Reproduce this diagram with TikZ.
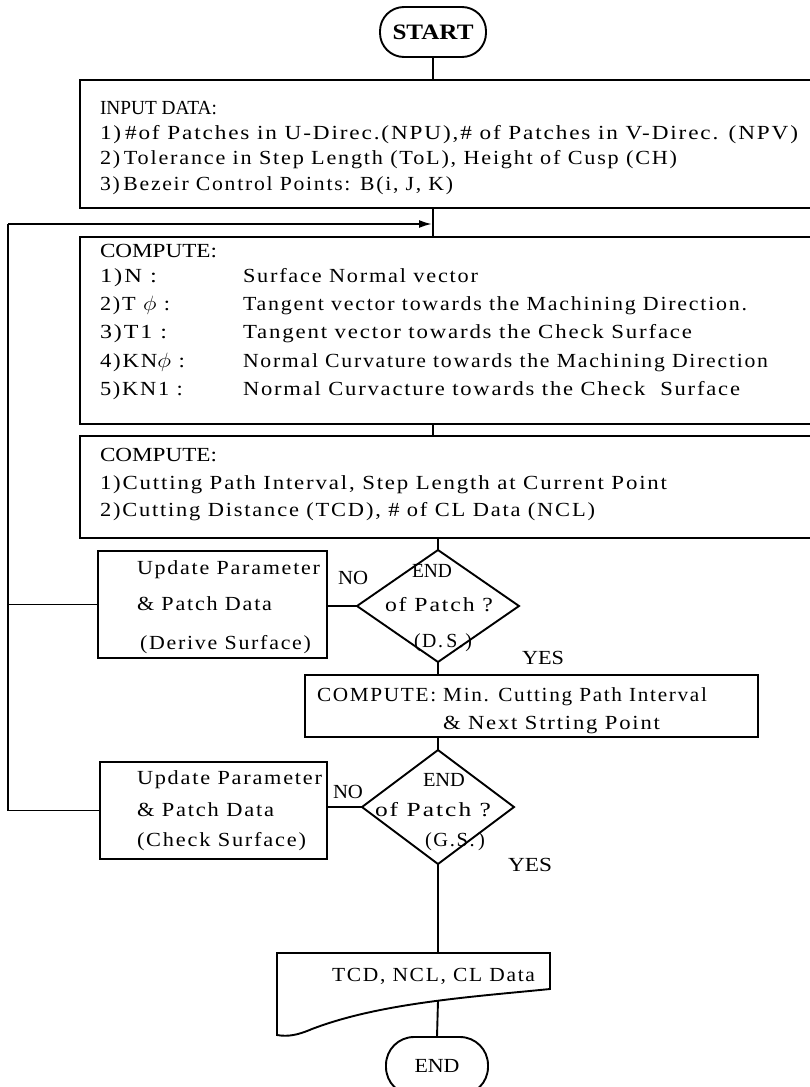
\documentclass[tikz,border=0pt]{standalone}
\usepackage{fontspec}
\setmainfont{Liberation Serif}
\newfontfamily\spf[LetterSpace=8]{Liberation Serif}
\usepackage{graphicx}
\usetikzlibrary{shapes.geometric,arrows.meta}
\newcommand{\tw}[2]{\resizebox{#1pt}{\height}{#2}}
\begin{document}
\begin{tikzpicture}[x=1pt,y=-1pt,
  ln/.style={line width=1.9pt},
  bx/.style={draw,line width=1.9pt,rectangle,inner sep=0pt,outer sep=0pt,anchor=north west},
  tl/.style={anchor=base west,inner sep=0pt,outer sep=0pt,font=\fontsize{20}{22}\selectfont\spf},
  tn/.style={anchor=base west,inner sep=0pt,outer sep=0pt,font=\fontsize{20}{22}\selectfont},
  dia/.style={draw,diamond,line width=1.9pt,inner sep=0pt,outer sep=0pt},
  term/.style={draw,line width=1.9pt,rectangle,inner sep=0pt,outer sep=0pt,anchor=center}
]
\fill[white] (0,0) rectangle (809,1087);
\useasboundingbox (0,0) rectangle (809,1087);

% ---- shapes
\node[term,rounded corners=24pt,minimum width=106pt,minimum height=50pt,font=\fontsize{22}{24}\selectfont\bfseries] (start) at (433,32) {\tw{81}{START}};
\node[bx,minimum width=740pt,minimum height=128pt] (inp) at (80,80) {};
\node[bx,minimum width=740pt,minimum height=187pt] (c1) at (80,237) {};
\node[bx,minimum width=740pt,minimum height=102pt] (c2) at (80,436) {};
\node[bx,minimum width=229pt,minimum height=107pt] (upd1) at (98,551) {};
\node[dia,minimum width=162pt,minimum height=112pt] (d1) at (438,606) {};
\node[bx,minimum width=453pt,minimum height=62pt] (minb) at (305,675) {};
\node[bx,minimum width=227pt,minimum height=97pt] (upd2) at (100,762) {};
\node[dia,minimum width=152pt,minimum height=114pt] (d2) at (438,807) {};
\draw[ln] (277,953) -- (550,953) -- (550,989)
  .. controls (470,997) and (380,1003) .. (312,1029)
  .. controls (298,1035) and (288,1037) .. (277,1035) -- cycle;
\coordinate (doctop) at (438,953);
\coordinate (docb) at (438,1001);
\node[term,rounded corners=28pt,minimum width=102pt,minimum height=58pt,font=\fontsize{20}{22}\selectfont] (endn) at (437,1066) {\tw{45}{END}};

% ---- connectors
\draw[ln] (start.south) -- (start.south |- inp.north);
\draw[ln] (start.south |- inp.south) -- (start.south |- c1.north);
\draw[ln] (start.south |- c1.south) -- (start.south |- c2.north);
\draw[ln] (d1.north |- c2.south) -- (d1.north);
\draw[ln] (d1.south) -- (d1.south |- minb.north);
\draw[ln] (d2.north |- minb.south) -- (d2.north);
\draw[ln] (d1.west) -- (d1.west -| upd1.east);
\draw[ln] (d2.west) -- (d2.west -| upd2.east);
\draw[ln] (d2.south) -- (doctop);
\draw[ln] (docb) -- (endn.north);
\coordinate (LT) at (8,224);
\coordinate (LA) at (432,224);
\draw[ln] (upd2.west) -- (upd2.west -| LT) -- (LT);
\draw[ln,-{Latex[length=13pt,width=8pt]}] (LT) -- (LA);
\draw[ln] (upd1.west) -- (upd1.west -| LT);

% ---- texts: input
\node[tn] (i0) at (100,114) {\tw{117}{INPUT DATA:}};
\node[tl] (i1) at (100,139) {\tw{698}{1)\,\#of Patches in U-Direc.(NPU),\# of Patches in V-Direc. (NPV)}};
\node[tl] (i2) at (100,164) {\tw{577}{2)\,Tolerance in Step Length (ToL), Height of Cusp (CH)}};
\node[tl] (i3) at (100,190) {\tw{353}{3)\,Bezeir Control Points: B(i, J, K)}};

% ---- compute 1
\node[tn] (a0) at (100,257) {\tw{117}{COMPUTE:}};
\node[tl] (a1) at (100,282) {\tw{57}{1)N :}};
\node[tl] (a2) at (100,310) {\tw{70}{2)T $\phi$ :}};
\node[tl] (a3) at (100,338) {\tw{67}{3)T1 :}};
\node[tl] (a4) at (100,367) {\tw{85}{4)KN$\phi$ :}};
\node[tl] (a5) at (100,395) {\tw{83}{5)KN1 :}};
\node[tl] (b1) at (243,282) {\tw{235}{Surface Normal vector}};
\node[tl] (b2) at (243,310) {\tw{504}{Tangent vector towards the Machining Direction.}};
\node[tl] (b3) at (243,338) {\tw{449}{Tangent vector towards the Check Surface}};
\node[tl] (b4) at (243,367) {\tw{525}{Normal Curvature towards the Machining Direction}};
\node[tl] (b5) at (243,395) {\tw{497}{Normal Curvacture towards the Check\ \ Surface}};

% ---- compute 2
\node[tn] (e0) at (100,461) {\tw{117}{COMPUTE:}};
\node[tl] (e1) at (100,489) {\tw{567}{1)Cutting Path Interval, Step Length at Current Point}};
\node[tl] (e2) at (100,516) {\tw{495}{2)Cutting Distance (TCD), \# of CL Data (NCL)}};

% ---- update 1 / decision 1
\node[tl] (u1) at (137,574) {\tw{183}{Update Parameter}};
\node[tl] (u2) at (137,610) {\tw{135}{\& Patch Data}};
\node[tl] (u3) at (140,649) {\tw{171}{(Derive Surface)}};
\node[tn] (no1) at (338,584) {\tw{30}{NO}};
\node[tn] (d1a) at (412,577) {\tw{40}{END}};
\node[tl] (d1b) at (385,611) {\tw{108}{of Patch ?}};
\node[tl] (d1c) at (414,647) {\tw{58}{(D.\,S.)}};
\node[tn] (yes1) at (522,664) {\tw{42}{YES}};

% ---- min box
\node[tl] (m1) at (317,701) {\tw{390}{COMPUTE: Min. Cutting Path Interval}};
\node[tl] (m2) at (443,729) {\tw{217}{\& Next Strting Point}};

% ---- update 2 / decision 2
\node[tl] (v1) at (137,784) {\tw{185}{Update Parameter}};
\node[tl] (v2) at (137,816) {\tw{137}{\& Patch Data}};
\node[tl] (v3) at (137,846) {\tw{169}{(Check Surface)}};
\node[tn] (no2) at (333,798) {\tw{30}{NO}};
\node[tn] (d2a) at (423,786) {\tw{42}{END}};
\node[tl] (d2b) at (375,816) {\tw{116}{of Patch ?}};
\node[tl] (d2c) at (425,846) {\tw{60}{(G.S.\,)}};
\node[tn] (yes2) at (508,871) {\tw{44}{YES}};

% ---- document
\node[tl] (dt) at (332,981) {\tw{203}{TCD, NCL, CL Data}};
\end{tikzpicture}
\end{document}
